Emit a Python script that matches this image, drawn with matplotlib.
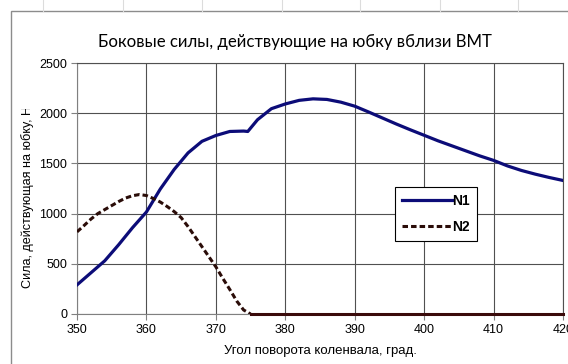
import numpy as np
import matplotlib.pyplot as plt
from matplotlib.patches import Rectangle
from matplotlib.lines import Line2D
from matplotlib.transforms import Bbox, TransformedBbox

# --- Data: side forces on the piston skirt near TDC ---
angle_n1 = [350, 352, 354, 356, 358, 360, 362, 364, 366, 368, 370, 372, 374, 374.6,
            376, 378, 380, 382, 384, 386, 388, 390, 392, 394, 396, 398, 400,
            402, 404, 406, 408, 410, 412, 414, 416, 418, 420]
force_n1 = [290, 410, 530, 690, 860, 1016, 1245, 1440, 1605, 1720, 1778, 1818, 1822, 1818,
            1935, 2045, 2092, 2128, 2143, 2137, 2110, 2070, 2012, 1952, 1892, 1835, 1780,
            1725, 1675, 1625, 1575, 1530, 1475, 1430, 1393, 1360, 1330]

angle_n2 = [350, 351, 352, 353, 354, 355, 356, 357, 358, 359, 360, 361, 362, 363,
            364, 365, 366, 367, 368, 369, 370, 371, 372, 373, 374, 375,
            380, 385, 390, 395, 400, 405, 410, 415, 420]
force_n2 = [818, 880, 945, 1000, 1040, 1080, 1120, 1155, 1178, 1190, 1180, 1150, 1115, 1070,
            1020, 960, 870, 770, 670, 570, 470, 355, 245, 130, 40, 0,
            0, 0, 0, 0, 0, 0, 0, 0, 0]

x_ticks = [350, 360, 370, 380, 390, 400, 410, 420]
y_ticks = [0, 500, 1000, 1500, 2000, 2500]

title = 'Боковые силы, действующие на юбку вблизи ВМТ'
x_label = 'Угол поворота коленвала, град.'
y_label = 'Сила, действующая на юбку, Н'

W, H = 568, 364
fig = plt.figure(figsize=(W / 100, H / 100), dpi=100)
fig.patch.set_facecolor('white')

# faint worksheet cells above the chart frame
for xp in [43, 123, 202, 282, 360, 440, 518]:
    fig.add_artist(Line2D([xp / W, xp / W], [1 - 10.5 / H, 1], transform=fig.transFigure,
                          color='#dcdcdc', lw=0.8))

# chart frame
fig.add_artist(Rectangle((10.5 / W, -0.05), 1.0, 1 - 10.5 / H + 0.05, transform=fig.transFigure,
                         fill=False, edgecolor='#8c8c8c', lw=1.0))

ax = fig.add_axes([77 / W, 1 - 314 / H, 486 / W, 251 / H])

grid_c = '#505050'
n1_c = '#0c0c78'
n2_c = '#2a0c08'
ax.plot(angle_n1, force_n1, color=n1_c, lw=2.3, label='N1', zorder=3)

# N2: dashed while the force is positive, solid along the zero line afterwards
a2 = np.array(angle_n2)
f2 = np.array(force_n2)
k = int(np.argmax(f2 == 0))
ax.plot(a2[:k + 1], f2[:k + 1], color=n2_c, lw=2.2, linestyle=(0, (1.8, 1.0)), label='N2', zorder=3)
ax.plot(a2[k:], f2[k:], color='#3a0a0a', lw=2.2, ls='-', zorder=4, clip_on=False)

ax.set_xlim(350, 420)
ax.set_ylim(0, 2500)
ax.set_xticks(x_ticks)
ax.set_yticks(y_ticks)
ax.grid(True, color=grid_c, lw=0.8)
ax.set_axisbelow(True)
for s in ax.spines.values():
    s.set_color(grid_c)
    s.set_linewidth(0.8)
ax.spines['left'].set_color('#808080')
ax.spines['bottom'].set_color('#808080')
ax.tick_params(axis='both', direction='out', length=4, width=0.8, color='#808080',
               labelsize=9, pad=3)
for lbl in ax.get_xticklabels() + ax.get_yticklabels():
    lbl.set_fontfamily('Liberation Sans')

ax.set_xlabel(x_label, fontsize=9.5, family='Liberation Sans', labelpad=7)

fig.text(294.5 / W, 1 - 42 / H, title, ha='center', va='center', fontsize=12.1, family='Lato')

yl = fig.text(28 / W, 1 - 197 / H, y_label, ha='center', va='center', rotation=90,
              fontsize=9.1, family='Liberation Sans')
yl.set_clip_box(TransformedBbox(Bbox([[0, 0], [1, 1 - 109 / H]]), fig.transFigure))
yl.set_clip_on(True)

leg = ax.legend(loc='center', bbox_to_anchor=(0.7387, 0.398),
                handlelength=3.6, handletextpad=0.05, borderpad=0.5, labelspacing=0.85,
                fancybox=False, framealpha=1, edgecolor='black',
                prop={'family': 'Liberation Sans', 'size': 10, 'weight': 'bold'})
leg.get_frame().set_linewidth(0.8)

fig.savefig('out.png', dpi=100)
